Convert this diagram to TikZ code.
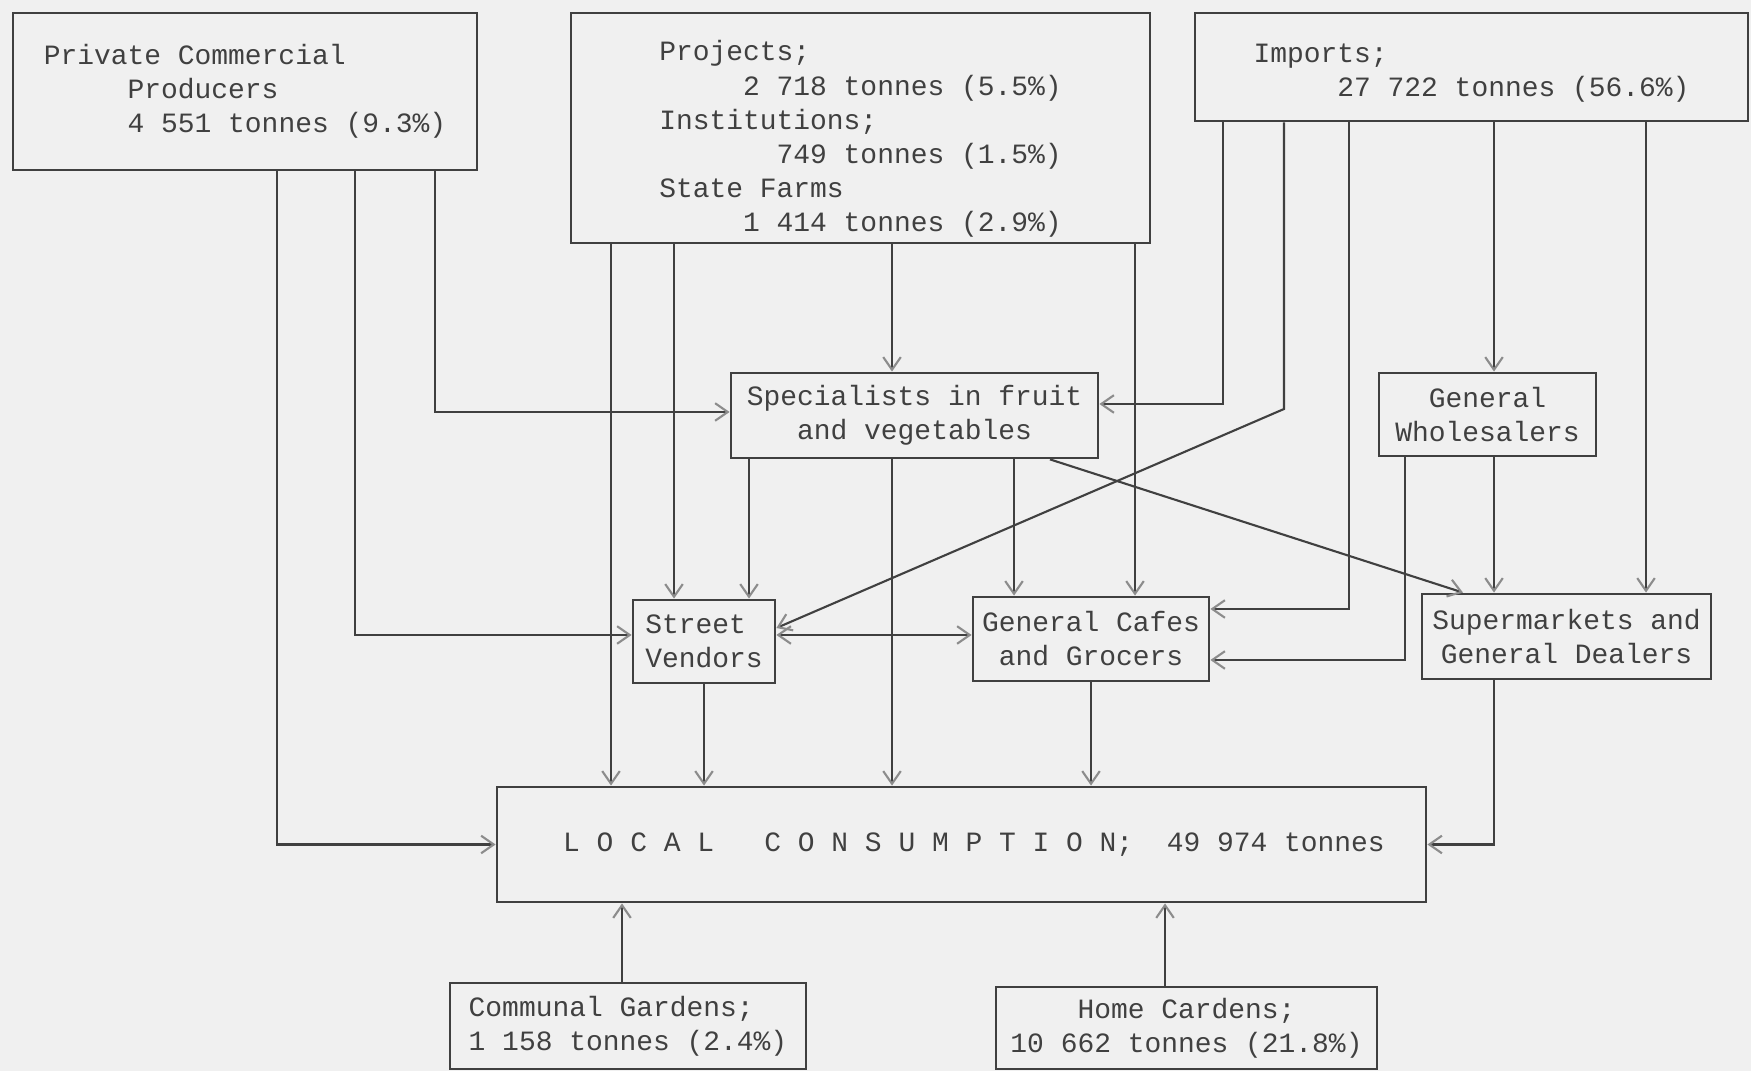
\documentclass[tikz,border=0pt]{standalone}
\usepackage{fontspec}
\newfontfamily\typewriter{Liberation Mono}
\usetikzlibrary{arrows.meta,positioning}
\definecolor{paper}{gray}{0.94}
\definecolor{ink}{gray}{0.25}
\definecolor{tip}{gray}{0.55}
\tikzset{>={Straight Barb[color=tip,length=3.6pt,width=5pt]}}
\tikzset{
  box/.style={draw=ink,line width=0.8pt,fill=paper,text=ink,inner sep=0pt,
    font=\typewriter\fontsize{7.95}{9.7}\selectfont},
  flow/.style={draw=ink,line width=0.6pt,->},
  twoway/.style={draw=ink,line width=0.6pt,<->}
}
\newcommand{\toppad}[1]{\rule{0pt}{#1}}

\begin{document}
\begin{tikzpicture}[x=0.1mm,y=-0.1mm]
    \fill[paper] (0,0) rectangle (1751,1071);
    \useasboundingbox (0,0) rectangle (1751,1071);

    \node[box,align=left,minimum width=46.4mm,minimum height=15.7mm] (pcp) at (245,91.5)
      {Private Commercial\\~~~~~Producers\\~~~~~4 551 tonnes (9.3\%)};
    \node[box,align=left,minimum width=57.9mm,minimum height=23mm] (proj) at (860.5,128)
      {\toppad{12pt}Projects;\\~~~~~2 718 tonnes (5.5\%)\\Institutions;\\~~~~~~~749 tonnes (1.5\%)\\State Farms\\~~~~~1 414 tonnes (2.9\%)};
    \node[box,align=left,minimum width=55.3mm,minimum height=10.8mm] (imp) at (1471.5,67)
      {\toppad{9pt}Imports;\\~~~~~27 722 tonnes (56.6\%)};
    \node[box,align=center,minimum width=36.7mm,minimum height=8.5mm] (spec) at (914.5,415.5)
      {Specialists in fruit\\and vegetables};
    \node[box,align=center,minimum width=21.7mm,minimum height=8.3mm] (whole) at (1487.5,414.5)
      {General\\Wholesalers};
    \node[box,align=left,minimum width=14.2mm,minimum height=8.3mm] (sv) at (704,641.5)
      {Street\\Vendors};
    \node[box,align=center,minimum width=23.6mm,minimum height=8.4mm] (cafe) at (1091,639)
      {General Cafes\\and Grocers};
    \node[box,align=center,minimum width=28.9mm,minimum height=8.5mm] (super) at (1566.5,636.5)
      {Supermarkets and\\General Dealers};
    \node[box,minimum width=92.9mm,minimum height=11.5mm] (lc) at (961.5,844.5)
      {\hspace*{2.5mm}L~O~C~A~L~~~C~O~N~S~U~M~P~T~I~O~N;~~49~974~tonnes};
    \node[box,align=left,minimum width=35.6mm,minimum height=8.6mm] (comm) at (628,1026)
      {Communal Gardens;\\1 158 tonnes (2.4\%)};
    \node[box,align=center,minimum width=38.1mm,minimum height=8.2mm] (home) at (1186.5,1028)
      {Home Cardens;\\10 662 tonnes (21.8\%)};

    \draw[flow] (277,0 |- pcp.south) |- (lc.west);
    \draw[flow] (355,0 |- pcp.south) |- (sv.west |- 0,635);
    \draw[flow] (435,0 |- pcp.south) |- (spec.west |- 0,412);

    \draw[flow] (611,0 |- proj.south) -- (611,0 |- lc.north);
    \draw[flow] (674,0 |- proj.south) -- (674,0 |- sv.north);
    \draw[flow] (892,0 |- proj.south) -- (892,0 |- spec.north);
    \draw[flow] (1135,0 |- proj.south) -- (1135,0 |- cafe.north);

    \draw[flow] (1223,0 |- imp.south) |- (spec.east |- 0,404);
    \draw[flow] (1284,0 |- imp.south) -- (1284,409) -- (sv.east |- 0,628);
    \draw[flow] (1349,0 |- imp.south) |- (cafe.east |- 0,609);
    \draw[flow] (1494,0 |- imp.south) -- (1494,0 |- whole.north);
    \draw[flow] (1646,0 |- imp.south) -- (1646,0 |- super.north);

    \draw[flow] (749,0 |- spec.south) -- (749,0 |- sv.north);
    \draw[flow] (892,0 |- spec.south) -- (892,0 |- lc.north);
    \draw[flow] (1014,0 |- spec.south) -- (1014,0 |- cafe.north);
    \draw[flow] (1050,0 |- spec.south) -- (1463,0 |- super.north);

    \draw[flow] (1405,0 |- whole.south) |- (cafe.east |- 0,660);
    \draw[flow] (1494,0 |- whole.south) -- (1494,0 |- super.north);

    \draw[twoway] (sv.east |- 0,635) -- (cafe.west |- 0,635);
    \draw[flow] (sv.south) -- (sv.south |- lc.north);
    \draw[flow] (cafe.south) -- (cafe.south |- lc.north);
    \draw[flow] (1494,0 |- super.south) |- (lc.east);

    \draw[flow] (622,0 |- comm.north) -- (622,0 |- lc.south);
    \draw[flow] (1165,0 |- home.north) -- (1165,0 |- lc.south);
  \end{tikzpicture}
\end{document}
